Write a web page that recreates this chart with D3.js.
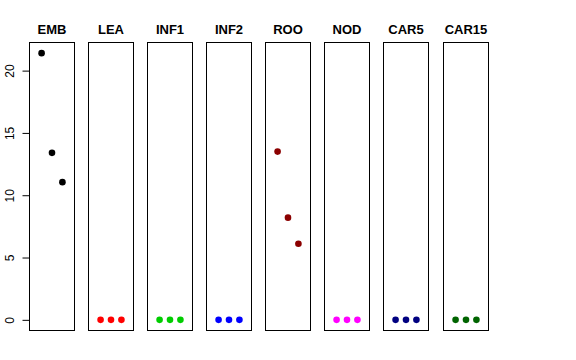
<!DOCTYPE html>
<html><head><meta charset="utf-8">
<script src="https://cdn.jsdelivr.net/npm/d3@7"></script>
<style>body{margin:0;background:#fff}svg{display:block}text{font-family:"Liberation Sans",Arial,sans-serif}</style>
</head><body>
<svg id="c" width="576" height="360"></svg>
<script>
const categories = ["EMB","LEA","INF1","INF2","ROO","NOD","CAR5","CAR15"];
const colors = ["#000000","#FF0000","#00CD00","#0000FF","#8B0000","#FF00FF","#000080","#006400"];
const positions = [1,2,3];
const values = [
  [21.4, 13.4, 11.05],
  [0, 0, 0],
  [0, 0, 0],
  [0, 0, 0],
  [13.5, 8.2, 6.1],
  [0, 0, 0],
  [0, 0, 0],
  [0, 0, 0]
];
const yTicks = [0,5,10,15,20];

const svg = d3.select("#c");
const plotTop = 42.5, plotBottom = 330.5;
const band = d3.scaleBand().domain(categories).range([28.7, 487.3]).paddingInner(0.244).paddingOuter(0);
const y = d3.scaleLinear().domain([-0.856, 22.256]).range([plotBottom, plotTop]);

categories.forEach((cat, i) => {
  const x0 = Math.round(band(cat)) + 0.5;
  const w = Math.round(band.bandwidth());
  const x = d3.scaleLinear().domain([-0.16, 4.16]).range([x0, x0 + w]);
  const g = svg.append("g");
  g.append("rect").attr("x", x0).attr("y", plotTop).attr("width", w).attr("height", plotBottom - plotTop)
    .attr("fill", "none").attr("stroke", "#000").attr("stroke-width", 1);
  g.append("text").attr("x", x0 + w / 2).attr("y", 33.5).attr("text-anchor", "middle")
    .attr("font-weight", "bold").attr("font-size", 13).text(cat);
  g.selectAll("circle").data(values[i]).join("circle")
    .attr("cx", (d, j) => x(positions[j])).attr("cy", d => y(d)).attr("r", 3.3)
    .attr("fill", colors[i]);
  if (i === 0) {
    const ax = svg.append("g").attr("transform", `translate(${x0},0)`)
      .call(d3.axisLeft(y).tickValues(yTicks).tickSize(7).tickPadding(0).tickFormat(d3.format("d")));
    ax.select(".domain").remove();
    ax.selectAll(".tick line").attr("stroke", "#000");
    ax.selectAll(".tick text").attr("transform", "translate(-20,0) rotate(-90)")
      .attr("text-anchor", "middle").attr("x", 0).attr("dy", "0.35em").attr("dx", 0)
      .attr("font-size", 12).attr("fill", "#000").style("font-family", '"Liberation Sans",Arial,sans-serif');
  }
});
</script>
</body></html>
